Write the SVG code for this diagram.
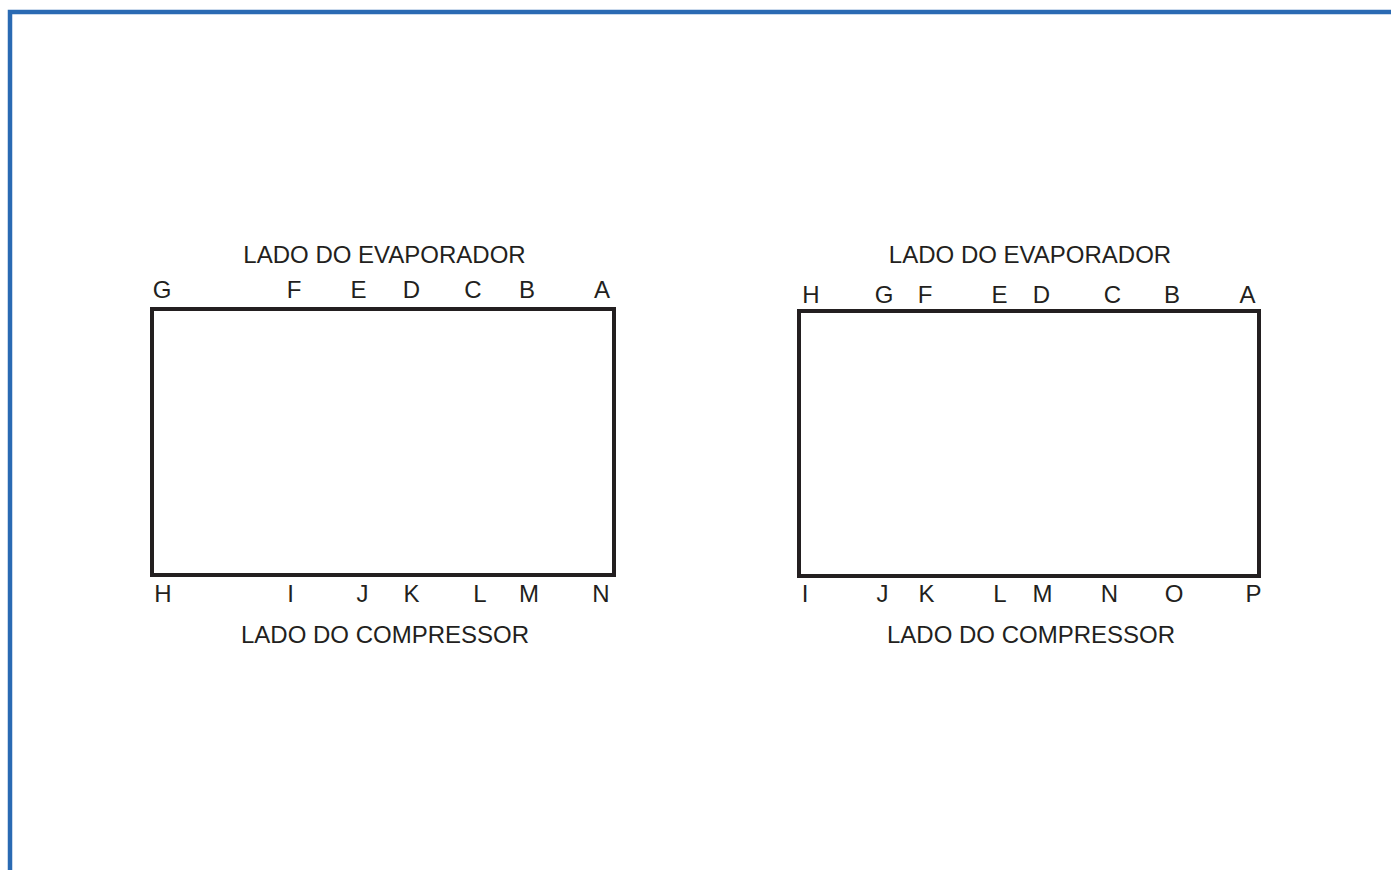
<svg xmlns="http://www.w3.org/2000/svg" width="1391" height="870" viewBox="0 0 1391 870">
<style>
.t{font-family:"Liberation Sans",Arial,sans-serif;font-size:24px;fill:#231f20;text-anchor:middle}
.box{fill:none;stroke:#231f20;stroke-width:4}
</style>
<rect width="1391" height="870" fill="#ffffff"/>
<path d="M10,870 V12 H1391" fill="none" stroke="#2a6ab3" stroke-width="4.5"/>
<g id="left-diagram">
<rect class="box" x="152" y="309" width="462" height="266"/>
<text class="t" x="384.5" y="263">LADO DO EVAPORADOR</text>
<text class="t" x="385" y="643">LADO DO COMPRESSOR</text>
<g id="left-top-labels">
<text class="t" x="162" y="298">G</text>
<text class="t" x="294" y="298">F</text>
<text class="t" x="358.5" y="298">E</text>
<text class="t" x="411.5" y="298">D</text>
<text class="t" x="473" y="298">C</text>
<text class="t" x="527" y="298">B</text>
<text class="t" x="602" y="298">A</text>
</g>
<g id="left-bottom-labels">
<text class="t" x="163" y="602">H</text>
<text class="t" x="290.5" y="602">I</text>
<text class="t" x="362.5" y="602">J</text>
<text class="t" x="411.5" y="602">K</text>
<text class="t" x="480" y="602">L</text>
<text class="t" x="529" y="602">M</text>
<text class="t" x="601" y="602">N</text>
</g>
</g>
<g id="right-diagram">
<rect class="box" x="799" y="311" width="460" height="265"/>
<text class="t" x="1030" y="263">LADO DO EVAPORADOR</text>
<text class="t" x="1031" y="643">LADO DO COMPRESSOR</text>
<g id="right-top-labels">
<text class="t" x="811" y="303">H</text>
<text class="t" x="884" y="303">G</text>
<text class="t" x="925" y="303">F</text>
<text class="t" x="999.5" y="303">E</text>
<text class="t" x="1041.5" y="303">D</text>
<text class="t" x="1112.5" y="303">C</text>
<text class="t" x="1172" y="303">B</text>
<text class="t" x="1247.5" y="303">A</text>
</g>
<g id="right-bottom-labels">
<text class="t" x="805" y="602">I</text>
<text class="t" x="882.5" y="602">J</text>
<text class="t" x="926.5" y="602">K</text>
<text class="t" x="1000" y="602">L</text>
<text class="t" x="1042.5" y="602">M</text>
<text class="t" x="1109.5" y="602">N</text>
<text class="t" x="1174" y="602">O</text>
<text class="t" x="1253.5" y="602">P</text>
</g>
</g>
</svg>
